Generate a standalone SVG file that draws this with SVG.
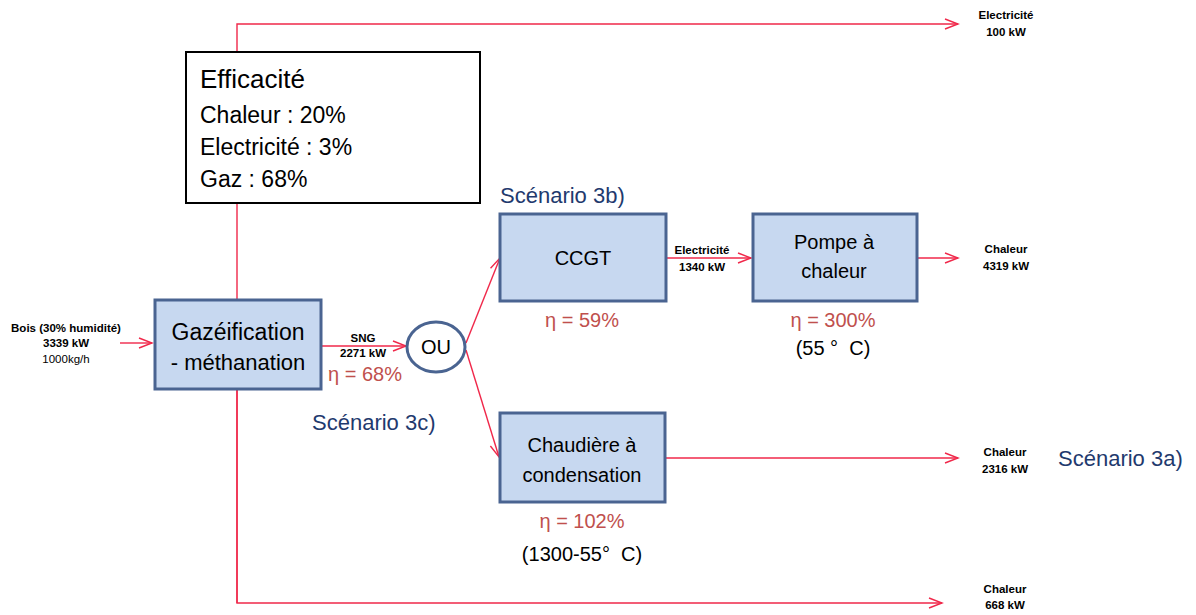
<svg xmlns="http://www.w3.org/2000/svg" width="1196" height="615" viewBox="0 0 1196 615">
<style>
text{font-family:"Liberation Sans",Arial,sans-serif;fill:#000}
.box{fill:#c7d8f0;stroke:#4a6491;stroke-width:3}
.big{font-size:20px;text-anchor:middle}
.lbl{font-size:11.5px;font-weight:bold;text-anchor:middle}
.lbn{font-size:11.5px;text-anchor:middle}
.eta{font-size:20px;fill:#c0504d;text-anchor:middle}
.scn{font-size:22px;fill:#1f3a6e}
.eff{font-size:23px}
.con{fill:none;stroke:#f0284a;stroke-width:1.4}
</style>
<defs>
<marker id="ah" markerUnits="userSpaceOnUse" markerWidth="16" markerHeight="14" refX="14" refY="6" orient="auto" viewBox="0 0 16 12">
<path d="M1,1 L14,6 L1,11" fill="none" stroke="#f0284a" stroke-width="1.4"/>
</marker>
</defs>
<rect width="1196" height="615" fill="#fff"/>
<g id="connectors">
<path class="con" d="M237,603 L237,24 L958,24" marker-end="url(#ah)"/>
<path class="con" d="M237,389 L237,603 L942,603" marker-end="url(#ah)"/>
<path class="con" d="M120,343 L152,343" marker-end="url(#ah)"/>
<path class="con" d="M321,346 L406,346" marker-end="url(#ah)"/>
<path class="con" d="M466,343 L500,258" marker-end="url(#ah)"/>
<path class="con" d="M466,350 L499,457" marker-end="url(#ah)"/>
<path class="con" d="M666,258 L751,258" marker-end="url(#ah)"/>
<path class="con" d="M917,258 L958,258" marker-end="url(#ah)"/>
<path class="con" d="M665,458 L958,458" marker-end="url(#ah)"/>
</g>
<g id="efficacite">
<rect x="186" y="52" width="294" height="151" fill="#fff" stroke="#000" stroke-width="2"/>
<text x="200" y="88" font-size="26px">Efficacité</text>
<text class="eff" x="200" y="123">Chaleur : 20%</text>
<text class="eff" x="200" y="155">Electricité : 3%</text>
<text class="eff" x="200" y="187">Gaz : 68%</text>
</g>
<g id="input">
<text class="lbl" x="66" y="332">Bois (30% humidité)</text>
<text class="lbl" x="66" y="347">3339 kW</text>
<text class="lbn" x="66" y="363">1000kg/h</text>
</g>
<g id="gazeification">
<rect class="box" x="155" y="300" width="166" height="89"/>
<text x="238" y="340" font-size="23px" text-anchor="middle">Gazéification</text>
<text x="238" y="370" font-size="22px" text-anchor="middle">- méthanation</text>
</g>
<g id="sng">
<text class="lbl" x="363" y="342">SNG</text>
<text class="lbl" x="363" y="357">2271 kW</text>
<text class="eta" x="365" y="381">η = 68%</text>
</g>
<g id="ou">
<ellipse cx="436" cy="347" rx="29" ry="25" fill="#fff" stroke="#4a6491" stroke-width="3"/>
<text class="big" x="436" y="354">OU</text>
</g>
<g id="scenario3c"><text class="scn" x="312" y="430">Scénario 3c)</text></g>
<g id="scenario3b"><text class="scn" x="500" y="203">Scénario 3b)</text></g>
<g id="ccgt">
<rect class="box" x="500" y="214" width="166" height="87"/>
<text class="big" x="583" y="265">CCGT</text>
<text class="eta" x="582" y="327">η = 59%</text>
</g>
<g id="elec1340">
<text class="lbl" x="702" y="254">Electricité</text>
<text class="lbl" x="702" y="271">1340 kW</text>
</g>
<g id="pompe">
<rect class="box" x="753" y="214" width="164" height="87"/>
<text class="big" x="834" y="249">Pompe à</text>
<text class="big" x="834" y="278">chaleur</text>
<text class="eta" x="833" y="327">η = 300%</text>
<text class="big" x="833" y="355">(55 °&#160;&#160;C)</text>
</g>
<g id="chaudiere">
<rect class="box" x="500" y="413" width="165" height="89"/>
<text class="big" x="582" y="452">Chaudière à</text>
<text class="big" x="582" y="482">condensation</text>
<text class="eta" x="582" y="528">η = 102%</text>
<text class="big" x="582" y="561">(1300-55°&#160;&#160;C)</text>
</g>
<g id="out-elec100">
<text class="lbl" x="1006" y="19">Electricité</text>
<text class="lbl" x="1006" y="36">100 kW</text>
</g>
<g id="out-chaleur4319">
<text class="lbl" x="1006" y="253">Chaleur</text>
<text class="lbl" x="1006" y="270">4319 kW</text>
</g>
<g id="out-chaleur2316">
<text class="lbl" x="1005" y="456">Chaleur</text>
<text class="lbl" x="1005" y="473">2316 kW</text>
</g>
<g id="scenario3a"><text class="scn" x="1058" y="466">Scénario 3a)</text></g>
<g id="out-chaleur668">
<text class="lbl" x="1005" y="593">Chaleur</text>
<text class="lbl" x="1005" y="609">668 kW</text>
</g>
</svg>
